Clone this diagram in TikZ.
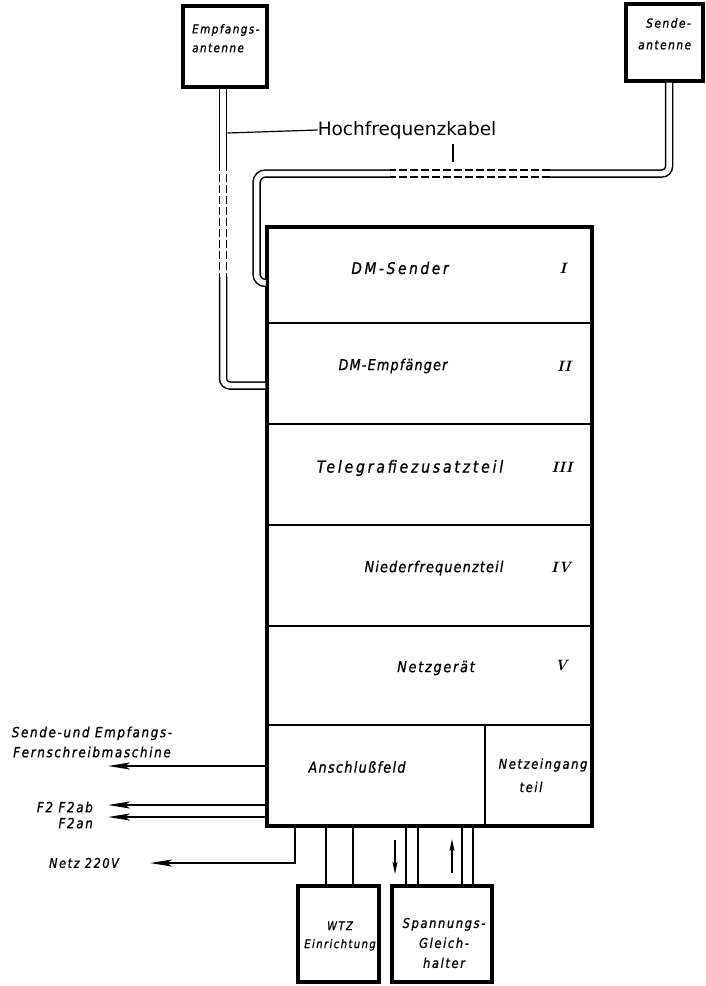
\documentclass[tikz,border=0pt]{standalone}
\usepackage{fontspec}
\newfontfamily\lab{DejaVu Sans}[LetterSpace=12, FakeStretch=0.85, FakeBold=1]
\newfontfamily\hfont{DejaVu Sans}
\newcommand\lsp[1]{\addfontfeatures{LetterSpace=#1}}
\usetikzlibrary{arrows.meta}
\begin{document}
\begin{tikzpicture}[x=1pt,y=-1pt,
  thickbox/.style={draw, line width=3.2pt, inner sep=0pt},
  divider/.style={line width=2pt},
  cable/.style={draw, line width=1.5pt, double, double distance=5.5pt, rounded corners=7pt},
  dcable/.style={cable, dash pattern=on 8pt off 3pt},
  lbl/.style 2 args={font=\lab\itshape\fontsize{#1}{#2}\selectfont, inner sep=0pt},
  rom/.style={font=\fontsize{15}{17}\selectfont\bfseries\itshape, inner sep=0pt},
  arr/.style={line width=2pt, -{Stealth[length=22pt,width=7pt,inset=5pt]}},
  wire/.style={line width=1.6pt},
  sarr/.style={line width=1.4pt, -{Stealth[length=12pt,width=5pt,inset=2pt]}}
]
\useasboundingbox (0,0) rectangle (705,986);

% antennas
\node[thickbox, minimum width=84pt, minimum height=81pt] (eant) at (225,46.5) {};
\node[lbl={12.2}{14}, anchor=west] (eantt1) at (192,30) {Empfangs-};
\node[lbl={12.2}{14}, anchor=west] (eantt2) at (192,48) {antenne};
\node[thickbox, minimum width=77pt, minimum height=77pt] (sant) at (664.5,42.5) {};
\node[lbl={12.5}{14}, anchor=west] (santt1) at (646,23) {Sende-};
\node[lbl={12.5}{14}, anchor=west] (santt2) at (638,45) {antenne};

% main unit
\node[thickbox, minimum width=325pt, minimum height=599pt] (unit) at (429.5,526.5) {};
\draw[divider] (unit.west |- {(0,323)}) -- (unit.east |- {(0,323)});
\draw[divider] (unit.west |- {(0,424)}) -- (unit.east |- {(0,424)});
\draw[divider] (unit.west |- {(0,525)}) -- (unit.east |- {(0,525)});
\draw[divider] (unit.west |- {(0,626)}) -- (unit.east |- {(0,626)});
\draw[divider] (unit.west |- {(0,725)}) -- (unit.east |- {(0,725)});
\draw[divider] (485,725) -- (unit.south -| {(485,0)});

\node[lbl={16}{18}] (s1) at (400,268) {\lsp{17}DM-Sender};
\node[rom] (r1) at (563,268) {I};
\node[lbl={15}{17}] (s2) at (393,366) {\lsp{8}DM-Empfänger};
\node[rom] (r2) at (564,366) {II};
\node[lbl={16.5}{18}] (s3) at (410,468) {\lsp{17}Telegrafiezusatzteil};
\node[rom] (r3) at (562,467) {III};
\node[lbl={15}{17}] (s4) at (434,568) {\lsp{8}Niederfrequenzteil};
\node[rom] (r4) at (561,567) {IV};
\node[lbl={15}{17}] (s5) at (436,668) {Netzgerät};
\node[rom] (r5) at (561,665) {V};
\node[lbl={15}{17}] (s6) at (357,767) {\lsp{9}Anschlußfeld};
\node[lbl={13.5}{15}] (s7) at (543,765) {Netzeingang};
\node[lbl={13.5}{15}] (s7b) at (531,787) {teil};

% cables
\coordinate (ec1) at (223,163);
\coordinate (ec2) at (223,277);
\draw[cable] (eant.south -| ec1) -- (ec1);
\draw[dcable] (ec1) -- (ec2);
\draw[cable] (ec2) -- (223,385.5) -- (unit.west |- {(0,385.5)});

\coordinate (sc1) at (550,173.5);
\coordinate (sc2) at (390,173.5);
\draw[cable] (sant.south -| {(669,0)}) -- (669,173.5) -- (sc1);
\draw[dcable] (sc1) -- (sc2);
\draw[cable, rounded corners=9pt] (sc2) -- (256.5,173.5) -- (256.5,283) -- (unit.west |- {(0,283)});

\node[font=\hfont\fontsize{18.5}{20}\selectfont, inner sep=0pt] (hf) at (407,130) {Hochfrequenzkabel};
\draw[line width=1.2pt] (227.5,133) -- (hf.west);
\draw[line width=1.2pt] (hf.south -| {(453,0)}) ++(0,5) -- (453,162);

% left outputs
\node[lbl={14}{20}, align=center] (fsm) at (92,742) {Sende-und Empfangs-\\Fernschreibmaschine};
\coordinate (fsmtip) at (108,766);
\draw[arr] (unit.west |- fsmtip) -- (fsmtip);
\node[lbl={14}{16}, align=right, anchor=east] (f2) at (93,815) {F2 F2ab\\F2an};
\coordinate (f2tip1) at (108,805);
\coordinate (f2tip2) at (108,817);
\draw[arr] (unit.west |- f2tip1) -- (f2tip1);
\draw[arr] (unit.west |- f2tip2) -- (f2tip2);
\node[lbl={13.3}{15}] (netz) at (84,863) {Netz 220V};
\coordinate (ntip) at (150,863);
\draw[arr] (unit.south -| {(295,0)}) -- (295,863) -- (ntip);

% bottom boxes
\node[thickbox, minimum width=81pt, minimum height=96pt] (wtz) at (338.5,934) {};
\node[lbl={11.8}{18}, align=center] (wtzt) at (340,936) {WTZ\\Einrichtung};
\node[thickbox, minimum width=100pt, minimum height=96pt] (sgh) at (442,934) {};
\node[lbl={13.5}{20}, align=center] (sght) at (444,943) {Spannungs-\\Gleich-\\halter};

\draw[wire] (unit.south -| {(326,0)}) -- (wtz.north -| {(326,0)});
\draw[wire] (unit.south -| {(353,0)}) -- (wtz.north -| {(353,0)});
\draw[wire] (unit.south -| {(406,0)}) -- (sgh.north -| {(406,0)});
\draw[wire] (unit.south -| {(418,0)}) -- (sgh.north -| {(418,0)});
\draw[wire] (unit.south -| {(462,0)}) -- (sgh.north -| {(462,0)});
\draw[wire] (unit.south -| {(473,0)}) -- (sgh.north -| {(473,0)});
\coordinate (da1) at (395,840);
\coordinate (da2) at (395,874);
\draw[sarr] (da1) -- (da2);
\coordinate (ua1) at (452,873);
\coordinate (ua2) at (452,839);
\draw[sarr] (ua1) -- (ua2);
\end{tikzpicture}
\end{document}
